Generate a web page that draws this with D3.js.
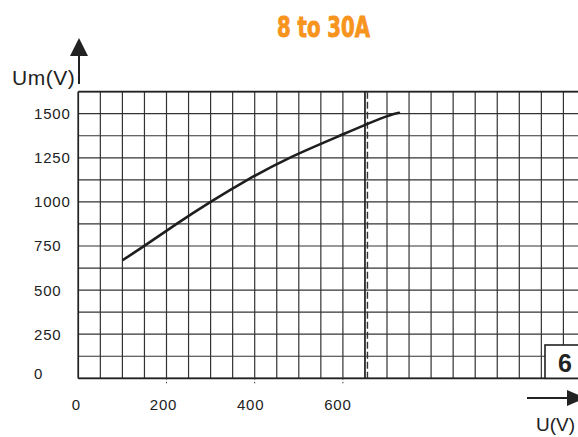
<!DOCTYPE html>
<html>
<head>
<meta charset="utf-8">
<script src="https://cdn.jsdelivr.net/npm/d3@7"></script>
<style>
  html, body { margin: 0; padding: 0; background: #fff; }
  svg { display: block; }
</style>
</head>
<body>
<svg id="chart" width="578" height="437"></svg>
<script>
// ---- data ----
const title = "8 to 30A";
const uValues  = [102, 151, 222, 299, 382, 475, 593, 700, 727];      // U (V)
const umValues = [672, 752, 875, 1000, 1125, 1250, 1375, 1490, 1505]; // Um (V)
const xTickLabels = [0, 200, 400, 600];
const yTickLabels = [0, 250, 500, 750, 1000, 1250, 1500];
const xGridStep = 50;
const yGridStep = 125;
const markerU = 650;          // dashed vertical marker
const xMax = 1150, yMax = 1625;
const badgeText = "6";

// ---- layout ----
const svg = d3.select("#chart");
const left = 78.3, bottom = 378.3, cell = 22.05;
const x = d3.scaleLinear().domain([0, xMax]).range([left, left + cell * xMax / xGridStep]);
const y = d3.scaleLinear().domain([0, yMax]).range([bottom, bottom - cell * yMax / yGridStep]);

const gridColor = "#333";
const g = svg.append("g");

// grid lines
const xGrid = d3.range(0, xMax + 1, xGridStep);
const yGrid = d3.range(0, yMax + 1, yGridStep);
g.selectAll(".vg").data(xGrid).join("line")
  .attr("x1", d => x(d)).attr("x2", d => x(d))
  .attr("y1", y(yMax)).attr("y2", y(0))
  .attr("stroke", gridColor).attr("stroke-width", 1.2);
g.selectAll(".hg").data(yGrid).join("line")
  .attr("x1", x(0)).attr("x2", x(xMax))
  .attr("y1", d => y(d)).attr("y2", d => y(d))
  .attr("stroke", gridColor).attr("stroke-width", 1.2);

// frame emphasis
g.append("line").attr("x1", x(0)).attr("x2", x(xMax)).attr("y1", y(0)).attr("y2", y(0))
  .attr("stroke", "#222").attr("stroke-width", 1.8);
g.append("line").attr("x1", x(0)).attr("x2", x(0)).attr("y1", y(0)).attr("y2", y(yMax))
  .attr("stroke", "#222").attr("stroke-width", 1.6);
g.append("line").attr("x1", x(0)).attr("x2", x(xMax)).attr("y1", y(yMax)).attr("y2", y(yMax))
  .attr("stroke", "#222").attr("stroke-width", 1.6);

// dashed marker (double line)
g.append("line").attr("x1", x(markerU) + 2.5).attr("x2", x(markerU) + 2.5)
  .attr("y1", y(yMax)).attr("y2", y(0))
  .attr("stroke", "#333").attr("stroke-width", 1.4).attr("stroke-dasharray", "7,3");
g.append("line").attr("x1", x(markerU)).attr("x2", x(markerU))
  .attr("y1", y(yMax)).attr("y2", y(0))
  .attr("stroke", "#222").attr("stroke-width", 1.4);

// x ticks (small marks under axis)
g.selectAll(".xt").data(xTickLabels.filter(d => d > 0)).join("line")
  .attr("x1", d => x(d)).attr("x2", d => x(d))
  .attr("y1", y(0)).attr("y2", y(0) + 6)
  .attr("stroke", "#444").attr("stroke-width", 1).attr("stroke-dasharray", "1.5,2");

// curve
const pts = uValues.map((u, i) => [u, umValues[i]]);
const line = d3.line().x(d => x(d[0])).y(d => y(d[1])).curve(d3.curveBasis);
g.append("path").datum(pts).attr("d", line)
  .attr("fill", "none").attr("stroke", "#1e1e1e").attr("stroke-width", 2.6)
  .attr("stroke-linecap", "round");

// tick labels
const labelFont = "'Liberation Sans', Arial, Helvetica, sans-serif";
g.selectAll(".yl").data(yTickLabels).join("text")
  .attr("x", 34)
  .attr("y", d => Math.min(y(d), y(0) - 5))
  .attr("dy", "0.36em")
  .attr("font-family", labelFont).attr("font-size", 15).attr("letter-spacing", 0.8)
  .attr("fill", "#222").text(d => d);
g.selectAll(".xl").data(xTickLabels).join("text")
  .attr("x", d => x(d) - 2 - d / 200)
  .attr("y", 410)
  .attr("text-anchor", "middle")
  .attr("font-family", labelFont).attr("font-size", 15).attr("letter-spacing", 0.8)
  .attr("fill", "#222").text(d => d);

// badge box
g.append("rect").attr("x", 545).attr("y", 345).attr("width", 60).attr("height", y(0) - 345)
  .attr("fill", "#fff").attr("stroke", "#222").attr("stroke-width", 1.6);
g.append("text").attr("x", 565).attr("y", 372)
  .attr("text-anchor", "middle")
  .attr("font-family", labelFont).attr("font-weight", "bold").attr("font-size", 25)
  .attr("fill", "#222").text(badgeText);

// y axis arrow
g.append("line").attr("x1", 79).attr("x2", 79).attr("y1", 84).attr("y2", 54)
  .attr("stroke", "#222").attr("stroke-width", 2);
g.append("path").attr("d", "M79,38 L70,56 L88,56 Z").attr("fill", "#222");
g.append("text").attr("x", 12).attr("y", 85)
  .attr("font-family", labelFont).attr("font-size", 21).attr("letter-spacing", 0.5)
  .attr("fill", "#222").text("Um(V)");

// x axis arrow
g.append("line").attr("x1", 527).attr("x2", 570).attr("y1", 398).attr("y2", 398)
  .attr("stroke", "#222").attr("stroke-width", 2.2);
g.append("path").attr("d", "M567,390 L586,398 L567,406 Z").attr("fill", "#222");
g.append("text").attr("x", 575).attr("y", 431)
  .attr("text-anchor", "end")
  .attr("font-family", labelFont).attr("font-size", 19)
  .attr("fill", "#222").text("U(V)");

// title
svg.append("text").attr("x", 277).attr("y", 36.5)
  .attr("textLength", 93).attr("lengthAdjust", "spacingAndGlyphs")
  .attr("font-family", "'Liberation Sans Narrow', 'DejaVu Sans Condensed', 'Liberation Sans', sans-serif")
  .attr("font-weight", "bold").attr("font-size", 29)
  .attr("fill", "#F7941D").attr("stroke", "#F7941D").attr("stroke-width", 0.9)
  .text(title);
</script>
</body>
</html>
